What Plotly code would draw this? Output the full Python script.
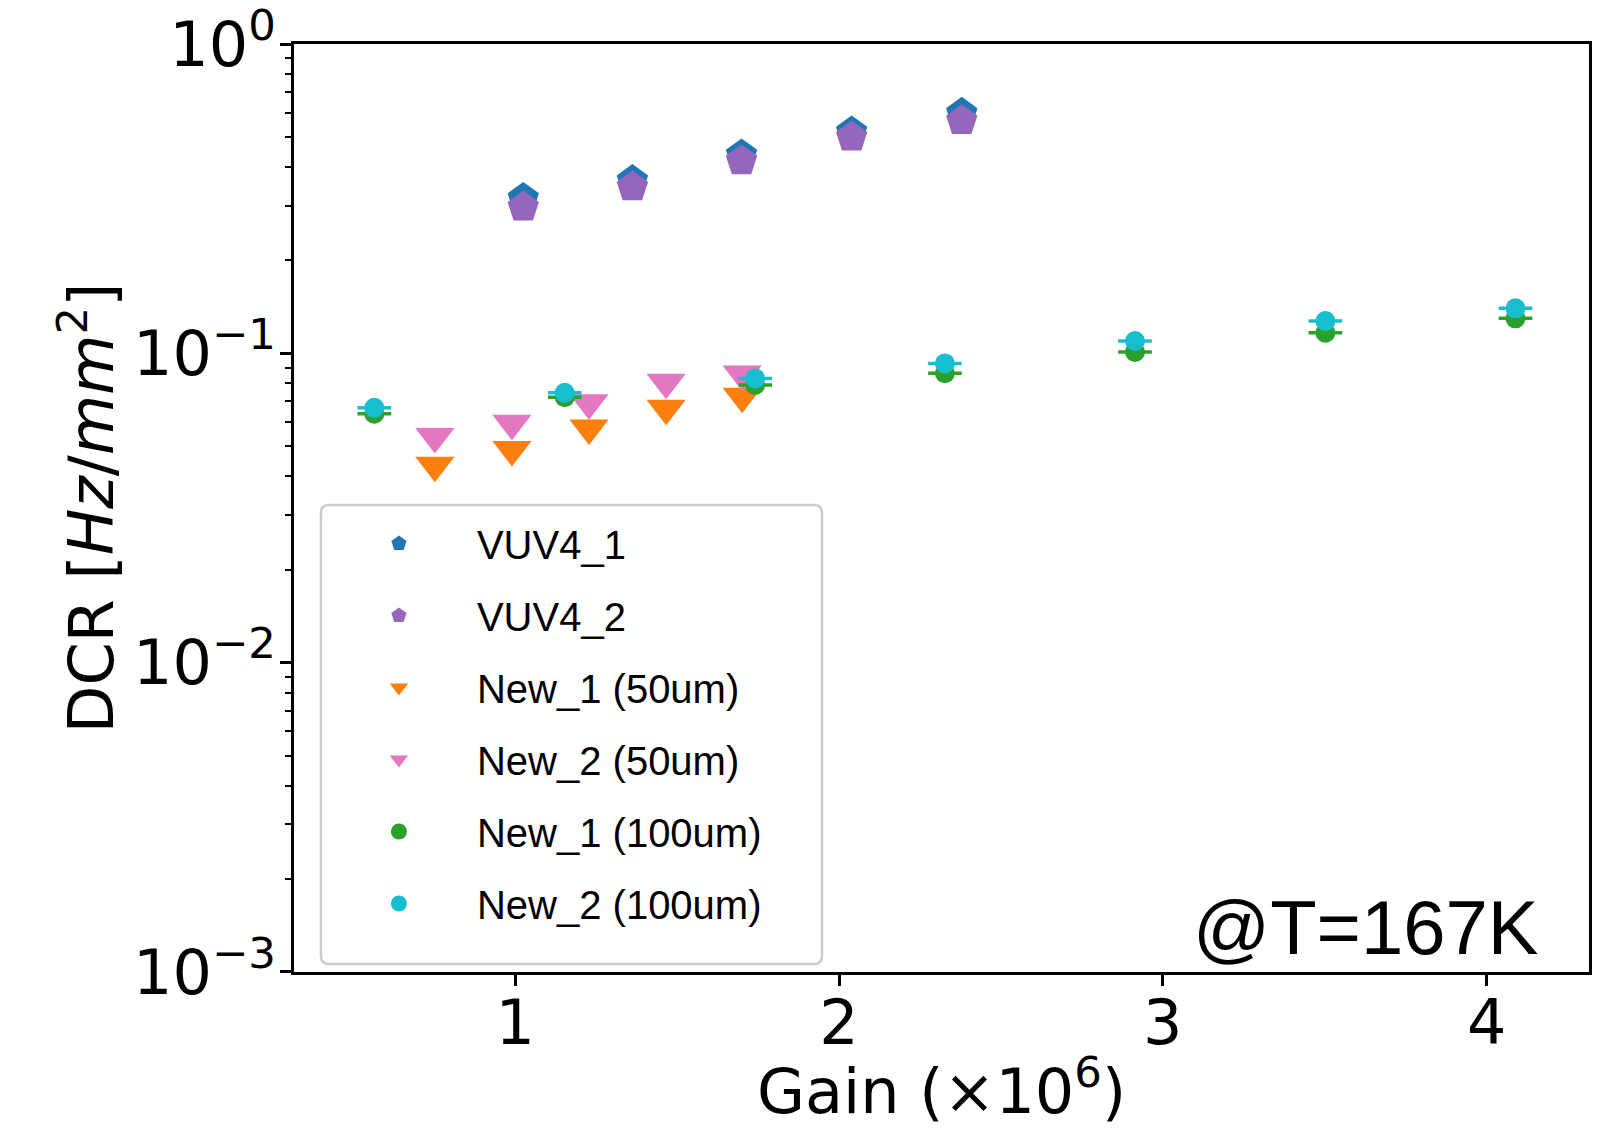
import plotly.graph_objects as go

# ---- data ----
gain_vuv4 = [1.025, 1.362, 1.699, 2.039, 2.379]
dcr_vuv4_1 = [0.317, 0.362, 0.438, 0.520, 0.597]
dcr_vuv4_2 = [0.297, 0.345, 0.419, 0.500, 0.565]

gain_new_50 = [0.752, 0.990, 1.228, 1.466, 1.701]
dcr_new1_50 = [0.0435, 0.0489, 0.0574, 0.0665, 0.0726]
dcr_new2_50 = [0.0538, 0.0594, 0.0692, 0.0806, 0.0857]

gain_new_100 = [0.565, 1.153, 1.741, 2.327, 2.914, 3.502, 4.089]
gain_err_100 = [0.052, 0.052, 0.052, 0.052, 0.052, 0.052, 0.052]
dcr_new1_100 = [0.0638, 0.0721, 0.0790, 0.0862, 0.1010, 0.1166, 0.1298]
dcr_new2_100 = [0.0667, 0.0746, 0.0830, 0.0928, 0.1096, 0.1272, 0.1398]

y_tick_vals = [1e-3, 1e-2, 1e-1, 1e0]
y_tick_text = ["10<sup>−3</sup>", "10<sup>−2</sup>", "10<sup>−1</sup>", "10<sup>0</sup>"]
x_tick_vals = [1, 2, 3, 4]
x_tick_text = ["1", "2", "3", "4"]

series = [
    ("VUV4_1", gain_vuv4, dcr_vuv4_1, None, "#1f77b4", "pentagon", 33),
    ("VUV4_2", gain_vuv4, dcr_vuv4_2, None, "#9467bd", "pentagon", 33),
    ("New_1 (50um)", gain_new_50, dcr_new1_50, None, "#ff7f0e", "triangle-down", 34),
    ("New_2 (50um)", gain_new_50, dcr_new2_50, None, "#e377c2", "triangle-down", 34),
    ("New_1 (100um)", gain_new_100, dcr_new1_100, gain_err_100, "#2ca02c", "circle", 20),
    ("New_2 (100um)", gain_new_100, dcr_new2_100, gain_err_100, "#17becf", "circle", 20),
]

fig = go.Figure()
for i, (name, xs, ys, xerr, color, symbol, size) in enumerate(series):
    fig.add_trace(go.Scatter(
        x=xs, y=ys, name=name, mode="markers", legendgroup=f"g{i}",
        marker=dict(symbol=symbol, size=size, color=color, line=dict(width=0)),
        error_x=(dict(type="data", array=xerr, color=color, thickness=3.5, width=0)
                 if xerr is not None else None),
    ))

minor_vals = [m * 10.0 ** e for e in (-3, -2, -1) for m in range(2, 10)]

# rounded legend frame (paper coordinates)
lx0, lx1, ly0, ly1 = 0.0208, 0.4077, 0.0086, 0.5032
rx, ry = 0.0062, 0.0086
frame_path = (
    f"M {lx0+rx},{ly0} L {lx1-rx},{ly0} Q {lx1},{ly0} {lx1},{ly0+ry} "
    f"L {lx1},{ly1-ry} Q {lx1},{ly1} {lx1-rx},{ly1} "
    f"L {lx0+rx},{ly1} Q {lx0},{ly1} {lx0},{ly1-ry} "
    f"L {lx0},{ly0+ry} Q {lx0},{ly0} {lx0+rx},{ly0} Z"
)

# the page body adds an 8px offset, margins compensate for it
fig.update_layout(
    width=1615, height=1129,
    margin=dict(l=286, r=34, t=36, b=165),
    paper_bgcolor="white", plot_bgcolor="white",
    font=dict(family="DejaVu Sans", color="black"),
    xaxis=dict(
        range=[0.317, 4.316], automargin=False,
        tickmode="array", tickvals=x_tick_vals, ticktext=x_tick_text,
        ticks="outside", ticklen=11, tickwidth=2.5, tickcolor="black",
        ticklabelstandoff=-16, ticklabeloverflow="allow",
        tickfont=dict(family="DejaVu Sans", size=62, color="black"),
        showline=True, linecolor="black", linewidth=2.5, mirror=True,
        showgrid=False, zeroline=False,
    ),
    yaxis=dict(
        type="log", range=[-3.0002, 0.0002], automargin=False,
        tickmode="array", tickvals=y_tick_vals, ticktext=y_tick_text,
        ticks="outside", ticklen=11, tickwidth=2.5, tickcolor="black",
        ticklabelstandoff=-8, ticklabeloverflow="allow",
        tickfont=dict(family="DejaVu Sans", size=62, color="black"),
        minor=dict(tickmode="array", tickvals=minor_vals, ticks="outside",
                   ticklen=6, tickwidth=1.8, tickcolor="black", showgrid=False),
        showline=True, linecolor="black", linewidth=2.5, mirror=True,
        showgrid=False, zeroline=False,
        title=dict(text="DCR [<i>Hz</i>/<i>mm</i><sup>2</sup>]",
                   font=dict(family="DejaVu Sans", size=62, color="black"),
                   standoff=0),
    ),
    legend=dict(
        x=0.0208, y=0.4968, xanchor="left", yanchor="top",
        bgcolor="rgba(0,0,0,0)", borderwidth=0,
        font=dict(family="Liberation Sans, Arial, sans-serif", size=40, color="black"),
        itemwidth=146, tracegroupgap=17, itemsizing="trace",
        traceorder="grouped",
    ),
    shapes=[dict(
        type="path", path=frame_path, xref="paper", yref="paper",
        line=dict(color="#cccccc", width=2.5), fillcolor="rgba(255,255,255,0.8)",
        layer="above",
    )],
    annotations=[
        dict(
            text="@T=167K", xref="paper", yref="paper", x=0.962, y=0.0475,
            xanchor="right", yanchor="middle", showarrow=False,
            font=dict(family="Liberation Sans, Arial, sans-serif", size=76, color="black"),
        ),
        dict(
            text="Gain (×10<sup>6</sup>)", xref="paper", yref="paper", x=0.5, y=-0.0785,
            xanchor="center", yanchor="top", showarrow=False,
            font=dict(family="DejaVu Sans", size=62, color="black"),
        ),
    ],
)

fig.write_html("out.html")
